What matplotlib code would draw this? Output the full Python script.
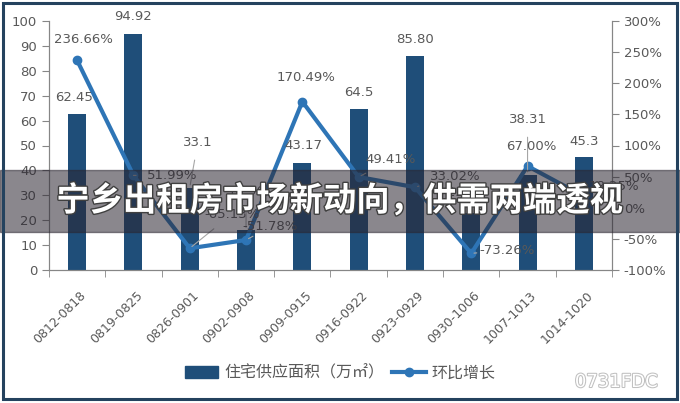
import matplotlib
matplotlib.use("Agg")
import matplotlib.pyplot as plt
import matplotlib.patheffects as pe
import matplotlib.transforms as mtransforms
from matplotlib.patches import Rectangle
from matplotlib.lines import Line2D

plt.rcParams['font.family'] = ['DejaVu Sans', 'Noto Sans CJK SC']

weeks = ['0812-0818', '0819-0825', '0826-0901', '0902-0908', '0909-0915',
         '0916-0922', '0923-0929', '0930-1006', '1007-1013', '1014-1020']
supply = [62.45, 94.92, 33.1, 15.96, 43.17, 64.5, 85.80, 22.94, 38.31, 45.3]
supply_labels = ['62.45', '94.92', '33.1', '15.96', '43.17', '64.5', '85.80', '22.94', '38.31', '45.3']
growth = [236.66, 51.99, -65.13, -51.78, 170.49, 49.41, 33.02, -73.26, 67.00, 18.25]

title = '宁乡出租房市场新动向，供需两端透视'
bar_name = '住宅供应面积（万㎡）'
line_name = '环比增长'

bar_color = '#1f4e79'
line_color = '#2e75b6'
text_color = '#595959'
axis_color = '#868686'

# label offsets in pixels (dx, dy)
bar_off = [(-3, 17), (0, 17), (8, 45), (0, 39), (1, 17), (0, 17), (0, 17), (-5, 20), (0, 55), (0, 16)]
line_off = [(6, 21), (39, 0), (42, 34), (24, 13), (4, 24), (32, 17), (40, 11), (36, 3), (4, 20), (30, 10)]

fig = plt.figure(figsize=(6.8, 4.03), dpi=100)
ax = fig.add_axes([49 / 680, 133 / 403, 563 / 680, 249 / 403])
ax2 = ax.twinx()

x = list(range(len(weeks)))
ax.bar(x, supply, width=0.32, color=bar_color, zorder=2)
ax2.plot(x, growth, color=line_color, lw=3, marker='o', ms=6, zorder=3)

ax.set_xlim(-0.5, len(weeks) - 0.5)
ax.set_ylim(0, 100)
ax.set_yticks(range(0, 101, 10))
ax2.set_ylim(-100, 300)
ax2.set_yticks(range(-100, 301, 50))
ax2.set_yticklabels([f'{v}%' for v in range(-100, 301, 50)])

ax.set_xticks(x)
ax.set_xticklabels(weeks, rotation=45, ha='right', va='center', rotation_mode='anchor')
ax.set_xticks([i - 0.5 for i in range(len(weeks) + 1)], minor=True)
ax.tick_params(axis='x', which='major', length=0, pad=17)
ax.tick_params(axis='x', which='minor', length=5, color=axis_color)
shift = mtransforms.ScaledTranslation(5 / 72, 0, fig.dpi_scale_trans)
for t in ax.get_xticklabels():
    t.set_transform(t.get_transform() + shift)

for a in (ax, ax2):
    a.spines['top'].set_visible(False)
    for s in ('left', 'right', 'bottom'):
        a.spines[s].set_color(axis_color)
    a.tick_params(axis='y', length=5, color=axis_color, labelcolor=text_color, labelsize=9.5)
ax.tick_params(axis='x', labelcolor=text_color, labelsize=9)
ax.set_zorder(ax2.get_zorder() - 1)
ax2.patch.set_visible(False)

def label(a, xi, yi, txt, off):
    far = (off[0] ** 2 + off[1] ** 2) ** 0.5 > 25
    a.annotate(txt, (xi, yi), xytext=off, textcoords='offset pixels',
               ha='center', va='center', fontsize=9.5, color=text_color, zorder=5,
               arrowprops=dict(arrowstyle='-', color='#a6a6a6', lw=0.8,
                               shrinkA=6, shrinkB=2) if far else None)

for i in x:
    label(ax2, i, supply[i] * 4 - 100, supply_labels[i], bar_off[i])
    label(ax2, i, growth[i], f'{growth[i]:.2f}%', line_off[i])

handles = [Rectangle((0, 0), 1, 1, color=bar_color),
           Line2D([], [], color=line_color, lw=3, marker='o', ms=6)]
fig.legend(handles, [bar_name, line_name], loc='center', bbox_to_anchor=(0.5, 0.075),
           ncol=2, frameon=False, fontsize=11.5, labelcolor=text_color,
           handlelength=2.1, handleheight=0.8, handletextpad=0.35, columnspacing=0.5)

# title band
fig.patches.append(Rectangle((0, 171 / 403), 1, 62 / 403, transform=fig.transFigure,
                             color='#2a2530', alpha=0.55, zorder=10))
fig.text(0.5, 202 / 403, title, ha='center', va='center', color='white',
         fontsize=24, fontweight='heavy', family='Noto Sans CJK SC', zorder=11,
         path_effects=[pe.withStroke(linewidth=2, foreground='#404040')])

# watermark
fig.text(616 / 680, 21 / 403, '0731FDC', ha='center', va='center', color='white',
         fontsize=13, zorder=11,
         path_effects=[pe.withStroke(linewidth=1.5, foreground='#c0c0c0')])

# frame
fig.patches.append(Rectangle((3 / 680, 4 / 403), 674 / 680, 396 / 403, transform=fig.transFigure,
                             fill=False, edgecolor='#24425e', lw=2.2, zorder=12))

fig.savefig('out.png', dpi=100)
